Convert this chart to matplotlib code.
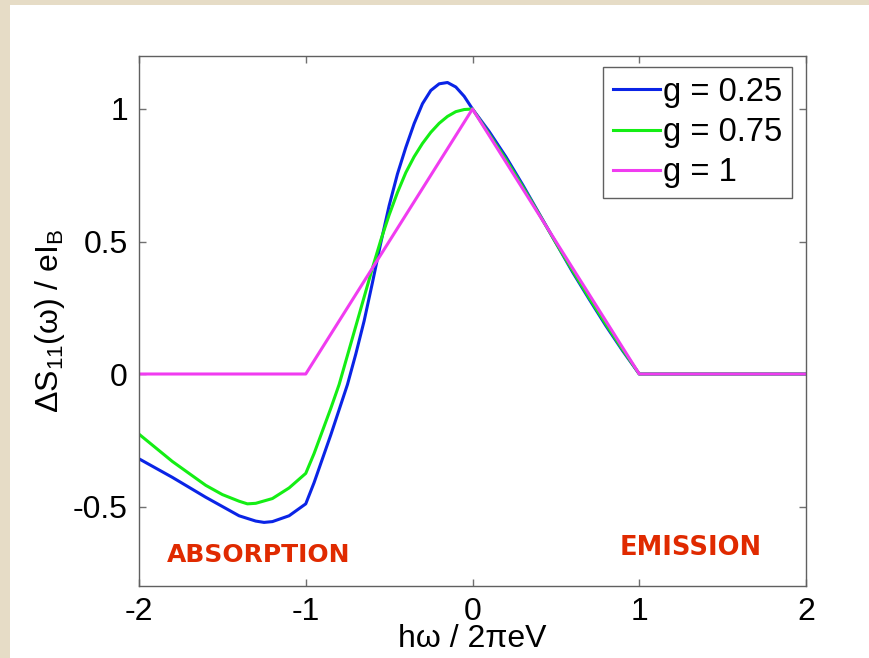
import numpy as np
import matplotlib.pyplot as plt
from matplotlib.patches import Rectangle

plt.rcParams['font.family'] = ['Liberation Sans', 'DejaVu Sans']
plt.rcParams['mathtext.fontset'] = 'custom'
plt.rcParams['mathtext.rm'] = 'Liberation Sans'
plt.rcParams['mathtext.it'] = 'Liberation Sans'
plt.rcParams['axes.unicode_minus'] = False

# ----- data
x_g025 = [-2.0, -1.8, -1.6, -1.4, -1.3, -1.25, -1.2, -1.1, -1.0, -0.95, -0.9,
          -0.85, -0.8, -0.75, -0.7, -0.65, -0.6, -0.55, -0.5, -0.45, -0.4,
          -0.35, -0.3, -0.25, -0.2, -0.15, -0.1, -0.05, 0.0, 0.1, 0.2, 0.3,
          0.4, 0.5, 0.6, 0.7, 0.8, 0.9, 1.0, 1.5, 2.0]
y_g025 = [-0.32, -0.39, -0.465, -0.535, -0.555, -0.56, -0.557, -0.535, -0.49,
          -0.41, -0.32, -0.23, -0.135, -0.04, 0.075, 0.20, 0.345, 0.495, 0.635,
          0.755, 0.855, 0.945, 1.02, 1.07, 1.095, 1.10, 1.083, 1.048, 1.0,
          0.915, 0.82, 0.715, 0.605, 0.495, 0.385, 0.282, 0.182, 0.088, 0.0,
          0.0, 0.0]

x_g075 = [-2.0, -1.8, -1.6, -1.5, -1.4, -1.35, -1.3, -1.2, -1.1, -1.0, -0.95,
          -0.9, -0.85, -0.8, -0.75, -0.7, -0.65, -0.6, -0.55, -0.5, -0.45,
          -0.4, -0.35, -0.3, -0.25, -0.2, -0.15, -0.1, -0.05, 0.0, 0.1, 0.2,
          0.3, 0.4, 0.5, 0.6, 0.7, 0.8, 0.9, 1.0, 1.5, 2.0]
y_g075 = [-0.227, -0.33, -0.42, -0.455, -0.48, -0.49, -0.488, -0.47, -0.43,
          -0.375, -0.30, -0.215, -0.13, -0.04, 0.07, 0.18, 0.29, 0.40, 0.505,
          0.60, 0.685, 0.76, 0.82, 0.87, 0.912, 0.946, 0.972, 0.99, 0.998, 1.0,
          0.905, 0.81, 0.708, 0.603, 0.495, 0.39, 0.287, 0.188, 0.092, 0.0,
          0.0, 0.0]

x_g1 = [-2, -1, 0, 1, 2]
y_g1 = [0, 0, 1, 0, 0]

labels = ['g = 0.25', 'g = 0.75', 'g = 1']
colors = ['#0a24e6', '#14ee14', '#f03cf0']

xticks = [-2, -1, 0, 1, 2]
yticks = [-0.5, 0, 0.5, 1]

# ----- figure with beige border and white panel
fig = plt.figure(figsize=(8.69, 6.58), dpi=100, facecolor='#e6dcc6')
fig.patches.append(Rectangle((10/869, 0), 1, 1 - 5/658, transform=fig.transFigure,
                             facecolor='white', edgecolor='none', zorder=-10))

ax = fig.add_axes([139/869, 72/658, 667/869, 530/658])
ax.set_zorder(5)
ax.plot(x_g025, y_g025, color=colors[0], lw=2.2, label=labels[0])
ax.plot(x_g075, y_g075, color=colors[1], lw=2.2, label=labels[1])
ax.plot(x_g1, y_g1, color=colors[2], lw=2.2, label=labels[2])

ax.set_xlim(-2, 2)
ax.set_ylim(-0.8, 1.2)
ax.set_xticks(xticks)
ax.set_xticklabels([str(t) for t in xticks])
ax.set_yticks(yticks)
ax.set_yticklabels(['-0.5', '0', '0.5', '1'])
ax.tick_params(direction='in', length=5, width=1, color='#707070',
               labelsize=23, top=True, right=True, pad=8)
for s in ax.spines.values():
    s.set_color('#606060')
    s.set_linewidth(1)

ax.set_xlabel('hω / 2πeV', fontsize=23, labelpad=-2)
ax.set_ylabel(r'ΔS$_{11}$(ω) / eI$_{\mathrm{B}}$', fontsize=23, labelpad=4)

ax.text(-1.83, -0.684, 'ABSORPTION', color='#e02a00', fontsize=18,
        fontweight='bold', family='DejaVu Sans', va='center', ha='left')
ax.text(0.885, -0.658, 'EMISSION', color='#e02a00', fontsize=18.5,
        fontweight='bold', family='DejaVu Sans', va='center', ha='left')

leg = ax.legend(loc='upper right', bbox_to_anchor=(0.979, 0.979), borderaxespad=0,
                fontsize=23.5, fancybox=False, framealpha=1, edgecolor='#606060',
                handlelength=1.45, handletextpad=0.08, labelspacing=0.28,
                borderpad=0.3)
leg.get_frame().set_linewidth(1)

plt.savefig('out.png', dpi=100, facecolor=fig.get_facecolor())
